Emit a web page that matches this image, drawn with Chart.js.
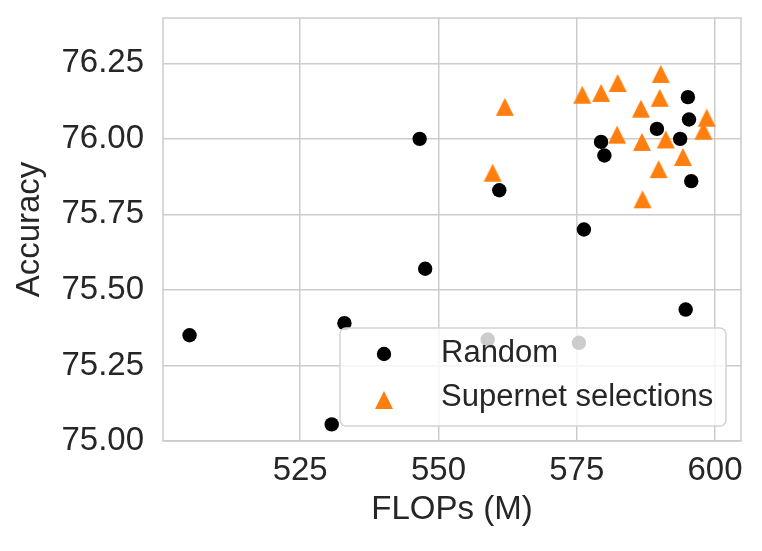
<!DOCTYPE html>
<html lang="en">
<head>
    <meta charset="UTF-8">
    <title>Accuracy vs FLOPs</title>
    <script src="https://cdn.jsdelivr.net/npm/chart.js@4.4.1/dist/chart.umd.min.js"></script>
    <style>
        html, body { margin: 0; padding: 0; background: #ffffff; }
        #wrap { width: 762px; height: 551px; }
    </style>
</head>
<body>
    <div id="wrap"><canvas id="scatter" width="762" height="551"></canvas></div>

    <script>
        // values
        const randomFlops = [546.6, 547.6, 505.0, 533.0, 530.7, 561.0, 576.3, 579.4, 580.0,
                             589.5, 593.7, 595.1, 595.3, 595.7, 594.7, 558.9, 575.4];
        const randomAcc = [76.00, 75.57, 75.35, 75.39, 75.055, 75.83, 75.70, 75.99, 75.945,
                           76.033, 76.00, 76.138, 76.064, 75.86, 75.435, 75.336, 75.325];

        const supernetFlops = [562.0, 559.8, 576.0, 579.4, 582.4, 590.2, 590.0, 586.6,
                               582.3, 586.8, 591.1, 598.5, 597.9, 594.2, 589.8, 586.9];
        const supernetAcc = [76.106, 75.888, 76.146, 76.152, 76.185, 76.215, 76.136, 76.10,
                             76.014, 75.99, 75.998, 76.07, 76.027, 75.94, 75.90, 75.80];

        const xTicks = [525, 550, 575, 600];
        const yTicks = [75.00, 75.25, 75.50, 75.75, 76.00, 76.25];
        const xRange = [500.2, 604.7];
        const yRange = [75.0, 76.4];

        const seriesNames = ['Random', 'Supernet selections'];

        const FONT = "'Liberation Sans', Arial, sans-serif";
        const TEXT = '#262626';
        const GRID = '#cccccc';
        const ORANGE = '#ff7f0e';

        // matplotlib-like '^' marker, centred on its bounding box
        function makeTriangle(size) {
            const c = document.createElement('canvas');
            c.width = size + 2;
            c.height = size + 2;
            const g = c.getContext('2d');
            g.fillStyle = ORANGE;
            g.beginPath();
            g.moveTo(1 + size / 2, 1);
            g.lineTo(1 + size, 1 + size);
            g.lineTo(1, 1 + size);
            g.closePath();
            g.fill();
            return c;
        }
        const triangle = makeTriangle(18);

        const toPoints = (xs, ys) => xs.map((x, i) => ({ x: x, y: ys[i] }));

        // no extra room for overhanging tick labels, the layout padding does it
        const noOverhang = (s) => {
            s.paddingTop = 0;
            s.paddingBottom = 0;
            s.paddingLeft = 0;
            s.paddingRight = 0;
        };

        // frame around the plot and a matplotlib-style legend box
        const framePlugin = {
            id: 'frameAndLegend',
            afterDraw(chart) {
                const { ctx, chartArea: a } = chart;
                ctx.save();
                ctx.strokeStyle = GRID;
                ctx.lineWidth = 1.5;
                ctx.strokeRect(a.left, a.top, a.right - a.left, a.bottom - a.top);

                // legend box
                const bx = 340, by = 328, bw = 386, bh = 98, r = 6;
                ctx.beginPath();
                ctx.roundRect(bx, by, bw, bh, r);
                ctx.fillStyle = 'rgba(255,255,255,0.8)';
                ctx.fill();
                ctx.strokeStyle = '#d3d3d3';
                ctx.lineWidth = 1.5;
                ctx.stroke();

                ctx.fillStyle = '#000000';
                ctx.beginPath();
                ctx.arc(384, 354, 7.2, 0, Math.PI * 2);
                ctx.fill();
                ctx.drawImage(triangle, 384 - triangle.width / 2, 400 - triangle.height / 2);

                ctx.fillStyle = TEXT;
                ctx.font = '31px ' + FONT;
                ctx.textBaseline = 'middle';
                ctx.textAlign = 'left';
                ctx.fillText(chart.data.datasets[0].label, 441, 353);
                ctx.fillText(chart.data.datasets[1].label, 441, 397);
                ctx.restore();
            }
        };

        new Chart(document.getElementById('scatter').getContext('2d'), {
            type: 'scatter',
            data: {
                datasets: [
                    {
                        label: seriesNames[0],
                        data: toPoints(randomFlops, randomAcc),
                        backgroundColor: '#000000',
                        borderWidth: 0,
                        pointRadius: 7.2,
                        pointHoverRadius: 7.2,
                        order: 1
                    },
                    {
                        label: seriesNames[1],
                        data: toPoints(supernetFlops, supernetAcc),
                        backgroundColor: ORANGE,
                        pointStyle: triangle,
                        borderWidth: 0,
                        order: 0
                    }
                ]
            },
            options: {
                responsive: false,
                animation: false,
                devicePixelRatio: 1,
                layout: { padding: { top: 18, right: 21, left: 0, bottom: 0 } },
                plugins: {
                    legend: { display: false },
                    tooltip: { enabled: false }
                },
                scales: {
                    x: {
                        type: 'linear',
                        min: xRange[0],
                        max: xRange[1],
                        afterBuildTicks: (s) => { s.ticks = xTicks.map(v => ({ value: v })); },
                        afterFit: (s) => { s.height = 110; noOverhang(s); },
                        grid: { color: GRID, lineWidth: 1.5, drawTicks: false },
                        border: { display: false },
                        ticks: {
                            color: TEXT,
                            font: { family: FONT, size: 33 },
                            padding: 10,
                            maxRotation: 0,
                            callback: (v) => String(v)
                        },
                        title: {
                            display: true,
                            text: 'FLOPs (M)',
                            color: TEXT,
                            font: { family: FONT, size: 33 },
                            padding: { top: 0, bottom: 21 }
                        }
                    },
                    y: {
                        type: 'linear',
                        min: yRange[0],
                        max: yRange[1],
                        afterBuildTicks: (s) => { s.ticks = yTicks.map(v => ({ value: v })); },
                        afterFit: (s) => { s.width = 163; noOverhang(s); },
                        grid: { color: GRID, lineWidth: 1.5, drawTicks: false },
                        border: { display: false },
                        ticks: {
                            color: TEXT,
                            font: { family: FONT, size: 33 },
                            padding: 19,
                            callback: (v) => Number(v).toFixed(2)
                        },
                        title: {
                            display: true,
                            text: 'Accuracy',
                            color: TEXT,
                            font: { family: FONT, size: 33 },
                            padding: { top: 10, bottom: 0 }
                        }
                    }
                }
            },
            plugins: [framePlugin]
        });
    </script>
</body>
</html>
